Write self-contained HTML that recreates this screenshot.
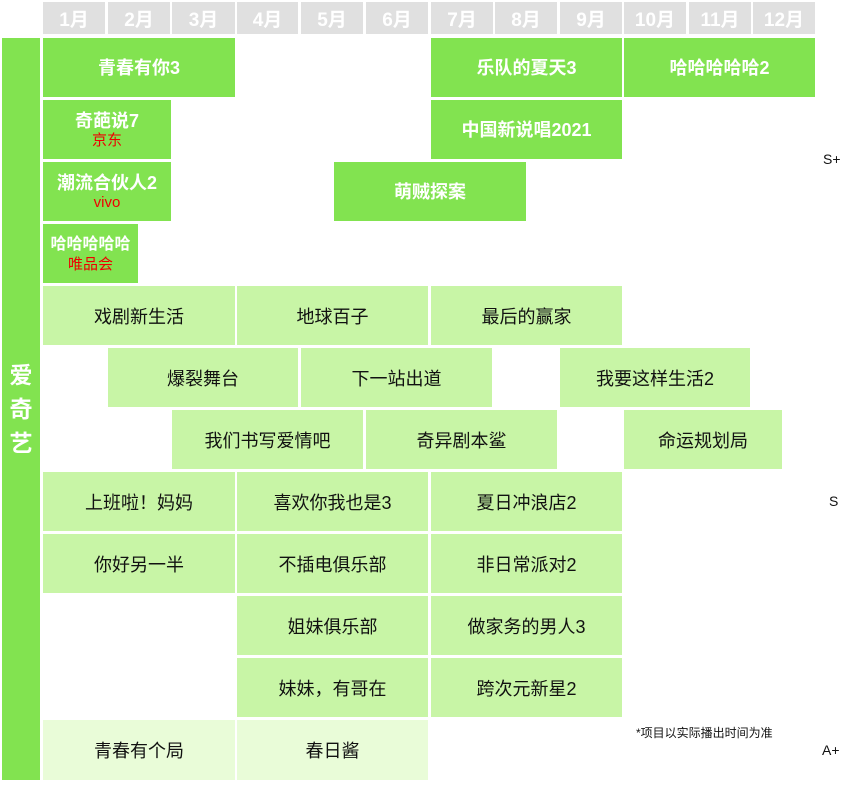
<!DOCTYPE html>
<html><head><meta charset="utf-8"><style>
body{margin:0;width:851px;height:785px;background:#fff;position:relative;overflow:hidden;font-family:"Liberation Sans","Noto Sans CJK SC",sans-serif}
.b{position:absolute;display:flex;flex-direction:column;align-items:center;justify-content:center;text-align:center;box-sizing:border-box}
.h{background:#e0e0e0;color:#fff;font-weight:bold;font-size:19px;top:2px;height:32px}
.d{background:#82e350;color:#fff;font-weight:bold;font-size:18px;line-height:22px}
.l{background:#c8f5a6;color:#111;font-size:18px}
.x{background:#e9fcd8;color:#111;font-size:18px}
.r{color:#e00;font-weight:normal;font-size:15px;line-height:18px}
.t{position:absolute;font-size:14px;color:#111}
</style></head><body>
<div class="b h" style="left:43px;width:62px">1月</div>
<div class="b h" style="left:108px;width:62px">2月</div>
<div class="b h" style="left:172px;width:63px">3月</div>
<div class="b h" style="left:237px;width:61px">4月</div>
<div class="b h" style="left:301px;width:62px">5月</div>
<div class="b h" style="left:366px;width:62px">6月</div>
<div class="b h" style="left:431px;width:62px">7月</div>
<div class="b h" style="left:495px;width:62px">8月</div>
<div class="b h" style="left:560px;width:62px">9月</div>
<div class="b h" style="left:624px;width:62px">10月</div>
<div class="b h" style="left:689px;width:62px">11月</div>
<div class="b h" style="left:753px;width:62px">12月</div>

<div class="b d" style="left:2px;top:38px;width:38px;height:742px;font-size:23px;line-height:34px">爱<br>奇<br>艺</div>

<div class="b d" style="left:43px;top:38px;width:192px;height:59px">青春有你3</div>
<div class="b d" style="left:431px;top:38px;width:191px;height:59px">乐队的夏天3</div>
<div class="b d" style="left:624px;top:38px;width:191px;height:59px">哈哈哈哈哈2</div>
<div class="b d" style="left:43px;top:100px;width:128px;height:59px">奇葩说7<span class="r">京东</span></div>
<div class="b d" style="left:431px;top:100px;width:191px;height:59px">中国新说唱2021</div>
<div class="b d" style="left:43px;top:162px;width:128px;height:59px">潮流合伙人2<span class="r">vivo</span></div>
<div class="b d" style="left:334px;top:162px;width:192px;height:59px">萌贼探案</div>
<div class="b d" style="left:43px;top:224px;width:95px;height:59px;font-size:16px">哈哈哈哈哈<span class="r">唯品会</span></div>

<div class="b l" style="left:43px;top:286px;width:192px;height:59px">戏剧新生活</div>
<div class="b l" style="left:237px;top:286px;width:191px;height:59px">地球百子</div>
<div class="b l" style="left:431px;top:286px;width:191px;height:59px">最后的赢家</div>
<div class="b l" style="left:108px;top:348px;width:190px;height:59px">爆裂舞台</div>
<div class="b l" style="left:301px;top:348px;width:191px;height:59px">下一站出道</div>
<div class="b l" style="left:560px;top:348px;width:190px;height:59px">我要这样生活2</div>
<div class="b l" style="left:172px;top:410px;width:191px;height:59px">我们书写爱情吧</div>
<div class="b l" style="left:366px;top:410px;width:191px;height:59px">奇异剧本鲨</div>
<div class="b l" style="left:624px;top:410px;width:158px;height:59px">命运规划局</div>
<div class="b l" style="left:43px;top:472px;width:192px;height:59px">上班啦！妈妈</div>
<div class="b l" style="left:237px;top:472px;width:191px;height:59px">喜欢你我也是3</div>
<div class="b l" style="left:431px;top:472px;width:191px;height:59px">夏日冲浪店2</div>
<div class="b l" style="left:43px;top:534px;width:192px;height:59px">你好另一半</div>
<div class="b l" style="left:237px;top:534px;width:191px;height:59px">不插电俱乐部</div>
<div class="b l" style="left:431px;top:534px;width:191px;height:59px">非日常派对2</div>
<div class="b l" style="left:237px;top:596px;width:191px;height:59px">姐妹俱乐部</div>
<div class="b l" style="left:431px;top:596px;width:191px;height:59px">做家务的男人3</div>
<div class="b l" style="left:237px;top:658px;width:191px;height:59px">妹妹，有哥在</div>
<div class="b l" style="left:431px;top:658px;width:191px;height:59px">跨次元新星2</div>
<div class="b x" style="left:43px;top:720px;width:192px;height:60px">青春有个局</div>
<div class="b x" style="left:237px;top:720px;width:191px;height:60px">春日酱</div>

<div class="t" style="left:823px;top:151px">S+</div>
<div class="t" style="left:829px;top:493px">S</div>
<div class="t" style="left:822px;top:742px">A+</div>
<div class="t" style="left:636px;top:724px;font-size:12px">*项目以实际播出时间为准</div>
</body></html>
